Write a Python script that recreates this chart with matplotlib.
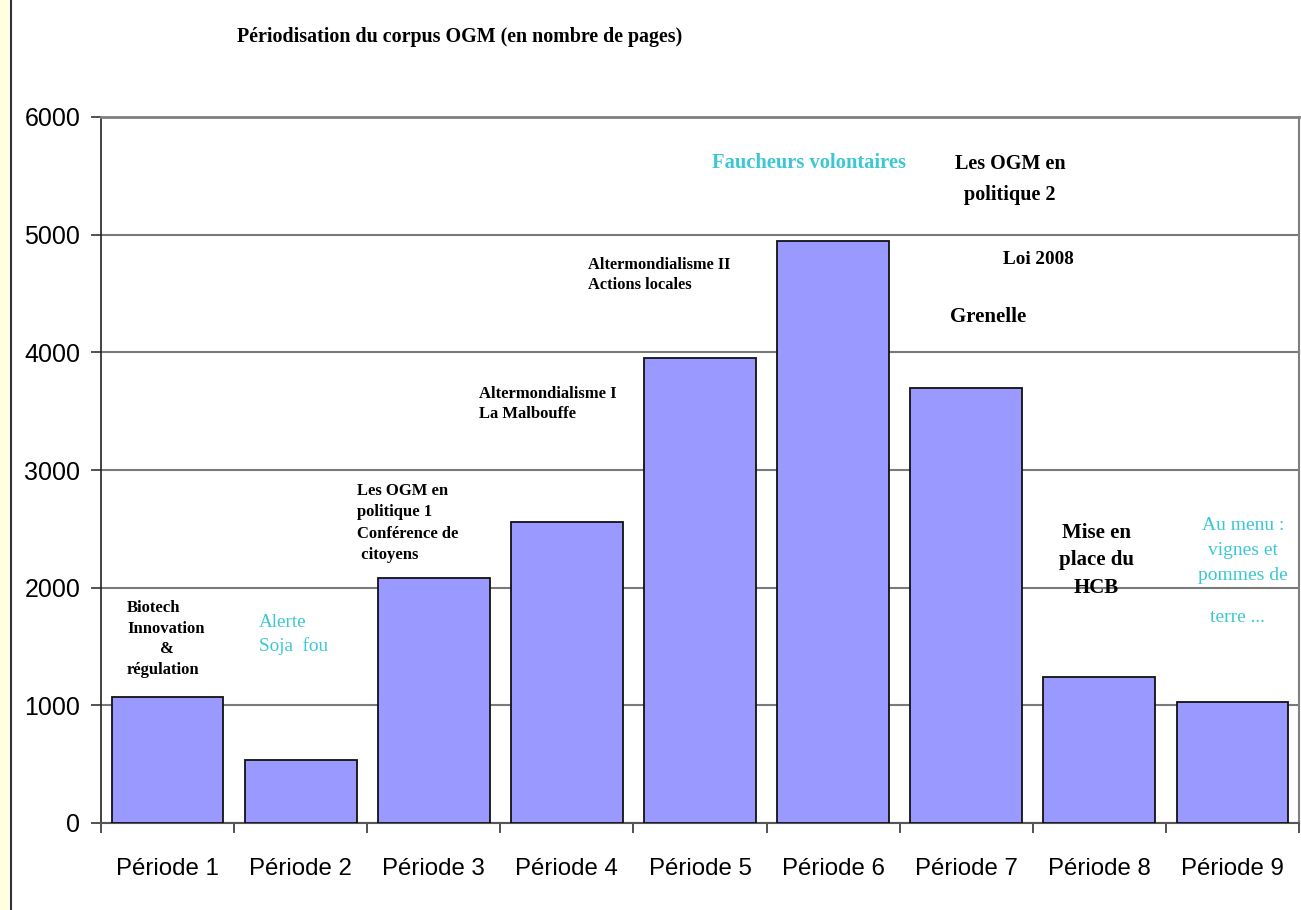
import matplotlib
matplotlib.use("Agg")
import matplotlib.pyplot as plt
from matplotlib.patches import Rectangle
from matplotlib.lines import Line2D
import numpy as np

categories = ["Période 1", "Période 2", "Période 3", "Période 4", "Période 5",
              "Période 6", "Période 7", "Période 8", "Période 9"]
pages = [1070, 535, 2080, 2555, 3955, 4945, 3700, 1240, 1025]
yticks = [0, 1000, 2000, 3000, 4000, 5000, 6000]
title = "Périodisation du corpus OGM (en nombre de pages)"

BLACK = "#000000"
CYAN = "#3CC8D2"
SERIF = "Liberation Serif"
SANS = "Liberation Sans"

fig = plt.figure(figsize=(13.01, 9.10), dpi=100)
fig.patch.set_facecolor("white")
ax = fig.add_axes([101/1301, 1 - 823/910, (1299 - 101)/1301, (823 - 117)/910])

x = np.arange(len(categories))
ax.bar(x, pages, width=0.84, color="#9999FF", edgecolor="#111111", linewidth=1.3, zorder=3)

ax.set_xlim(-0.5, len(categories) - 0.5)
ax.set_ylim(0, 6000)
ax.set_yticks(yticks)
ax.set_yticklabels([str(v) for v in yticks], fontsize=18, family=SANS)
ax.yaxis.grid(True, color="#7a7a7a", linewidth=1.5, zorder=0)
ax.set_axisbelow(True)

ax.set_xticks(x)
ax.set_xticklabels(categories, fontsize=17.3, family=SANS)
ax.set_xticks(np.arange(len(categories) + 1) - 0.5, minor=True)
ax.tick_params(axis="x", which="major", length=0, pad=25)
ax.tick_params(axis="x", which="minor", length=7, width=1.2, color="#333333")
ax.tick_params(axis="y", length=7, width=1.2, color="#333333", pad=8)

ax.spines["left"].set_color("#222222")
ax.spines["left"].set_linewidth(1.2)
ax.spines["bottom"].set_color("#555555")
ax.spines["bottom"].set_linewidth(1.5)
ax.spines["right"].set_color("#808080")
ax.spines["right"].set_linewidth(1.5)
ax.spines["top"].set_color("#808080")
ax.spines["top"].set_linewidth(2)

fig.text(460/1301, 1 - 37/910, title, ha="center", va="center",
         fontsize=14.4, fontweight="bold", family=SERIF)

# left yellow stripe
fig.patches.append(Rectangle((0, 0), 9/1301, 1, transform=fig.transFigure,
                             facecolor="#FFFFE0", edgecolor="none"))
fig.lines.append(Line2D([10.5/1301, 10.5/1301], [0, 1], transform=fig.transFigure,
                        color="#333333", linewidth=1.5))

def t(xd, yd, s, color=BLACK, size=12, weight="bold", ha="left", va="top", ls=1.3):
    ax.text(xd, yd, s, color=color, fontsize=size, fontweight=weight, ha=ha, va=va,
            family=SERIF, linespacing=ls, zorder=5)

t(-0.305, 1895, "Biotech\nInnovation\n        &\nrégulation", size=12, ls=1.38)
t(0.687, 1776, "Alerte\nSoja  fou", color=CYAN, size=13.8, weight="normal", ls=1.45)
t(1.423, 2889, "Les OGM en\npolitique 1\nConférence de\n citoyens", size=12, ls=1.45)
t(2.34, 3714, "Altermondialisme I\nLa Malbouffe", size=12, ls=1.3)
t(3.159, 4810, "Altermondialisme II\nActions locales", size=11.8, ls=1.35)
t(4.09, 5609, "Faucheurs volontaires", color=CYAN, size=14.8, va="center")
t(6.33, 5685, "Les OGM en\npolitique 2", size=14.5, ha="center", ls=1.7)
t(6.277, 4785, "Loi 2008", size=13.8, va="center")
t(5.878, 4300, "Grenelle", size=15, va="center")
t(6.98, 2550, "Mise en\nplace du\nHCB", size=15, ha="center", ls=1.5)
t(8.08, 2600, "Au menu :\nvignes et\npommes de", color=CYAN, size=14, weight="normal",
  ha="center", ls=1.6)
t(8.04, 1750, "terre ...", color=CYAN, size=14, weight="normal", ha="center", va="center")

fig.savefig("out.png", dpi=100, facecolor="white")
